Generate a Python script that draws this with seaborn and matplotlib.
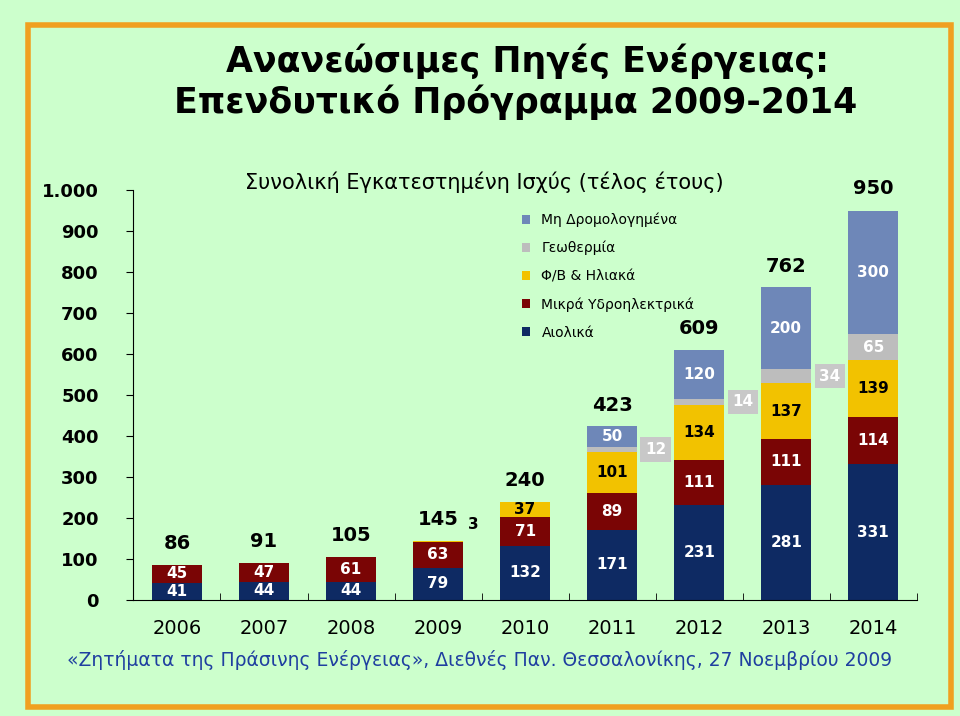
import numpy as np
import pandas as pd
import matplotlib.pyplot as plt
import seaborn as sns
from matplotlib.patches import Rectangle

years = ['2006', '2007', '2008', '2009', '2010', '2011', '2012', '2013', '2014']
wind = [41, 44, 44, 79, 132, 171, 231, 281, 331]
hydro = [45, 47, 61, 63, 71, 89, 111, 111, 114]
solar = [0, 0, 0, 3, 37, 101, 134, 137, 139]
geo = [0, 0, 0, 0, 0, 12, 14, 34, 65]
unplanned = [0, 0, 0, 0, 0, 50, 120, 200, 300]
totals = [86, 91, 105, 145, 240, 423, 609, 762, 950]
yticks = [0, 100, 200, 300, 400, 500, 600, 700, 800, 900, 1000]
ytick_labels = ['0', '100', '200', '300', '400', '500', '600', '700', '800', '900', '1.000']

names = ['Αιολικά', 'Μικρά Υδροηλεκτρικά', 'Φ/Β & Ηλιακά', 'Γεωθερμία', 'Μη Δρομολογημένα']
colors = ['#0E2A63', '#7A0505', '#F2C200', '#BDBDBD', '#6E87B8']
txtcol = ['white', 'white', 'black', 'white', 'white']
layers = [wind, hydro, solar, geo, unplanned]

BG = '#CCFFCC'
fig = plt.figure(figsize=(9.6, 7.16), dpi=100, facecolor=BG)
fig.patches.append(Rectangle((0.029, 0.012), 0.962, 0.953, transform=fig.transFigure,
                             fill=False, edgecolor='#F0A020', linewidth=4))
ax = fig.add_axes([0.139, 0.162, 0.816, 0.573])
ax.set_facecolor(BG)

cum = np.cumsum(np.array(layers), axis=0)
df = pd.DataFrame({'year': years})
# draw from top layer down so lower layers cover upper ones
for i in range(len(layers) - 1, -1, -1):
    df['v'] = cum[i]
    sns.barplot(data=df, x='year', y='v', color=colors[i], width=0.57,
                saturation=1, ax=ax, label=names[i], edgecolor='none')

# segment labels
for j in range(len(years)):
    base = 0
    for i, layer in enumerate(layers):
        v = layer[j]
        if v == 0:
            continue
        mid = base + v / 2
        if i == 3 and j in (5, 6, 7):
            ax.text(j + 0.5, mid, str(v), ha='center', va='center', color='white',
                    fontsize=11, fontweight='bold',
                    bbox=dict(boxstyle='square,pad=0.3', fc='#C8C8C8', ec='none'))
        elif i == 2 and j == 3:
            ax.text(j + 0.4, mid + 40, str(v), ha='center', va='center', color='black',
                    fontsize=11, fontweight='bold')
        else:
            ax.text(j, mid, str(v), ha='center', va='center', color=txtcol[i],
                    fontsize=11, fontweight='bold')
        base += v
    ax.text(j, totals[j] + 52, str(totals[j]), ha='center', va='center',
            fontsize=14, fontweight='bold', color='black')

ax.set_ylim(0, 1000)
ax.set_xlim(-0.45, 8.45)
ax.set_xticks(np.arange(-0.5, 9, 1), minor=True)
ax.tick_params(axis='x', which='major', length=0, pad=14, labelsize=14)
ax.tick_params(axis='x', which='minor', length=5, direction='in')
ax.set_xlabel('')
ax.set_ylabel('')
for s in ['top', 'right']:
    ax.spines[s].set_visible(False)
ax.set_yticks(yticks, ytick_labels, fontsize=13, fontweight='bold')
ax.tick_params(axis='y', length=5, pad=20)

h, l = ax.get_legend_handles_labels()
ax.legend(h, l, loc='upper left', bbox_to_anchor=(0.48, 0.975), frameon=False,
          fontsize=10, handlelength=0.6, handleheight=0.6, labelspacing=1.0)

fig.text(0.55, 0.915, 'Ανανεώσιμες Πηγές Ενέργειας:', ha='center', va='center',
         fontsize=25, fontweight='bold')
fig.text(0.537, 0.857, 'Επενδυτικό Πρόγραμμα 2009-2014', ha='center', va='center',
         fontsize=25, fontweight='bold')
fig.text(0.505, 0.745, 'Συνολική Εγκατεστημένη Ισχύς (τέλος έτους)', ha='center',
         va='center', fontsize=15)
fig.text(0.5, 0.078, '«Ζητήματα της Πράσινης Ενέργειας», Διεθνές Παν. Θεσσαλονίκης, 27 Νοεμβρίου 2009',
         ha='center', va='center', fontsize=13.5, color='#1F3FA0')

fig.savefig('out.png', dpi=100, facecolor=BG)
